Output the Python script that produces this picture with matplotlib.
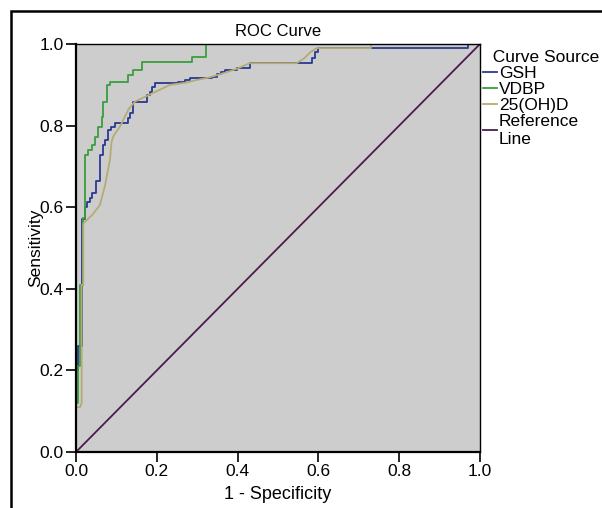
import matplotlib
matplotlib.use('Agg')
import matplotlib.pyplot as plt
from matplotlib.patches import Rectangle

plt.rcParams['font.family'] = ['Liberation Sans', 'DejaVu Sans']

# GSH - step curve (x where the jump happens, new sensitivity)
gsh_fpr = [0, 0, 0.005, 0.015, 0.022, 0.028, 0.034, 0.04, 0.05, 0.059, 0.066,
           0.072, 0.08, 0.087, 0.097, 0.129, 0.134, 0.14, 0.175, 0.183, 0.187,
           0.196, 0.252, 0.27, 0.282, 0.336, 0.348, 0.36, 0.369, 0.398, 0.431,
           0.583, 0.592, 0.6, 0.97, 1.0]
gsh_tpr = [0, 0.20, 0.26, 0.57, 0.60, 0.613, 0.622, 0.635, 0.664, 0.727, 0.752,
           0.765, 0.789, 0.797, 0.806, 0.819, 0.831, 0.859, 0.875, 0.883, 0.895,
           0.904, 0.908, 0.912, 0.916, 0.92, 0.926, 0.932, 0.936, 0.94, 0.953,
           0.965, 0.981, 0.99, 1.0, 1.0]

# VDBP - step curve
vdbp_fpr = [0, 0, 0.005, 0.01, 0.017, 0.022, 0.03, 0.04, 0.047, 0.054, 0.064,
            0.067, 0.077, 0.084, 0.129, 0.141, 0.163, 0.286, 0.323, 1.0]
vdbp_tpr = [0, 0.12, 0.21, 0.41, 0.574, 0.728, 0.74, 0.752, 0.773, 0.797, 0.822,
            0.859, 0.899, 0.908, 0.924, 0.936, 0.955, 0.969, 1.0, 1.0]

# 25(OH)D - curve vertices
vitd_fpr = [0, 0, 0.01, 0.014, 0.014, 0.018, 0.018, 0.022, 0.04, 0.059, 0.072,
            0.084, 0.088, 0.092, 0.11, 0.13, 0.146, 0.233, 0.27, 0.30, 0.33,
            0.37, 0.40, 0.43, 0.546, 0.565, 0.58, 0.596, 0.73, 0.73, 1.0]
vitd_tpr = [0, 0.11, 0.11, 0.12, 0.41, 0.41, 0.56, 0.564, 0.581, 0.605, 0.654,
            0.716, 0.76, 0.773, 0.80, 0.84, 0.859, 0.90, 0.905, 0.912, 0.918,
            0.93, 0.94, 0.953, 0.953, 0.965, 0.98, 0.99, 0.99, 1.0, 1.0]

ref_x = [0, 1]
ref_y = [0, 1]

fig = plt.figure(figsize=(6.02, 5.08), dpi=100)
ax = fig.add_axes([76 / 602, 1 - 452 / 508, 404 / 602, 408 / 508])
ax.set_facecolor('#cdcdcd')

ax.plot(gsh_fpr, gsh_tpr, drawstyle='steps-post', color='#283a8e', lw=1.3, label='GSH')
ax.plot(vdbp_fpr, vdbp_tpr, drawstyle='steps-post', color='#3a9e3f', lw=1.3, label='VDBP')
ax.plot(vitd_fpr, vitd_tpr, color='#b5ab74', lw=1.3, label='25(OH)D')
ax.plot(ref_x, ref_y, color='#4e1a4e', lw=1.3, label='Reference\nLine')

ax.set_xlim(0, 1)
ax.set_ylim(0, 1)
ax.set_xticks([0, 0.2, 0.4, 0.6, 0.8, 1.0])
ax.set_yticks([0, 0.2, 0.4, 0.6, 0.8, 1.0])
ax.set_xticklabels(['0.0', '0.2', '0.4', '0.6', '0.8', '1.0'])
ax.set_yticklabels(['0.0', '0.2', '0.4', '0.6', '0.8', '1.0'])
ax.tick_params(direction='out', length=7, width=1.2, labelsize=12.5, pad=2)
for s in ['left', 'bottom']:
    ax.spines[s].set_linewidth(1.6)
for s in ['top', 'right']:
    ax.spines[s].set_linewidth(1.0)

ax.set_xlabel('1 - Specificity', fontsize=13, labelpad=5)
ax.set_ylabel('Sensitivity', fontsize=12.5, labelpad=-3)
ax.set_title('ROC Curve', fontsize=12, pad=6)

leg = ax.legend(loc='upper left', bbox_to_anchor=(1.0, 0.993), frameon=False,
                title='  Curve Source', fontsize=12.5, title_fontsize=12.5,
                handlelength=0.8, handletextpad=0.1, labelspacing=0.05,
                borderaxespad=0.1, borderpad=0.1, alignment='left')

# outer frame of the picture
fig.patches.append(Rectangle((11 / 602, -0.1), 1.2, 1 - 11 / 508 + 0.1,
                             transform=fig.transFigure, fill=False,
                             edgecolor='black', lw=1.8))

plt.savefig('out.png', dpi=100)
